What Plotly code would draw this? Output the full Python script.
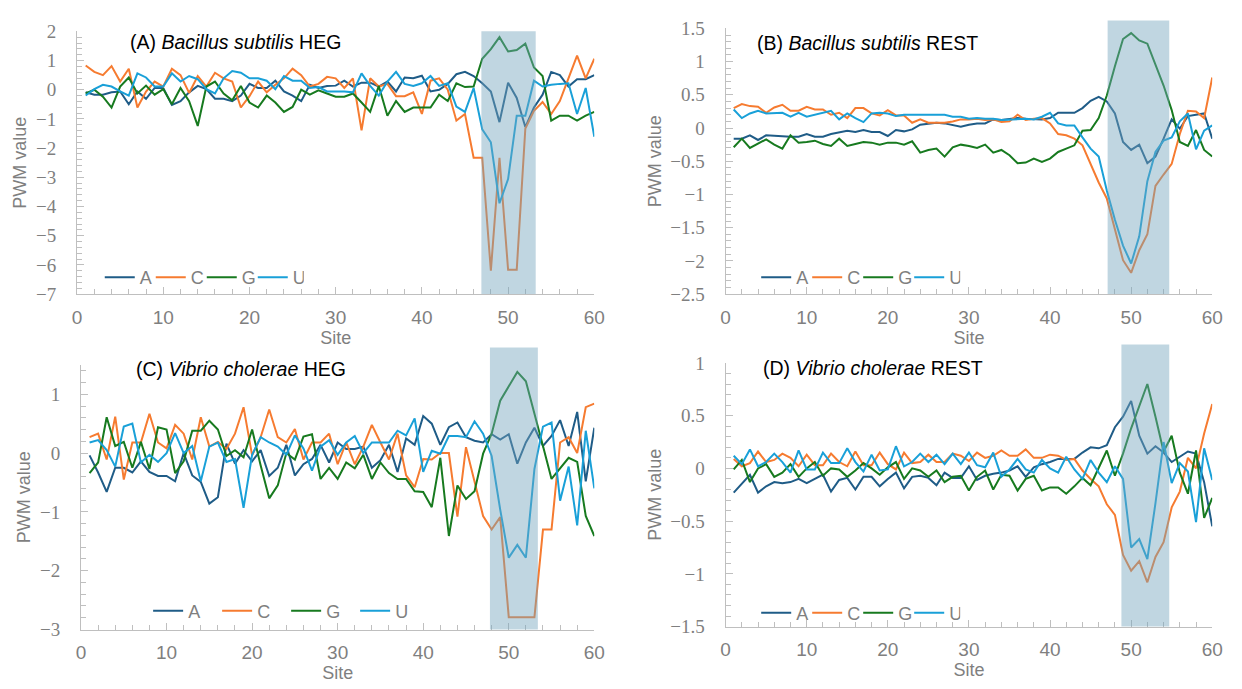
import plotly.graph_objects as go

sites = list(range(1, 61))
bases = ["A", "C", "G", "U"]
colors = {"A": "#1f5c87", "C": "#f67b30", "G": "#177a1f", "U": "#19a0d8"}

# (A) Bacillus subtilis HEG
bs_heg_A = [-0.09,-0.17,-0.17,-0.09,-0.06,-0.5,-0.06,-0.31,0.06,0.06,
            -0.52,-0.39,-0.09,0.13,0.02,-0.31,-0.31,-0.39,-0.2,0.2,
            0.06,0.06,0.31,-0.06,-0.2,-0.39,0.17,0.06,0.13,0.14,
            0.31,0.11,0.24,0.24,0.11,0.28,-0.06,0.42,0.39,0.48,
            -0.06,0,0.2,0.53,0.61,0.47,0.22,-0.06,-1.11,0.24,
            -0.28,-1.28,-0.61,-0.17,0.61,0.5,0.11,0.36,0.36,0.5]
bs_heg_C = [0.83,0.61,0.5,0.81,0.28,0.72,-0.61,-0.06,0.28,0.11,
            0.72,0.5,-0.11,0.47,0.11,0.58,0.39,0.28,-0.61,-0.22,
            0.28,-0.09,0.17,0.39,0.72,0.5,0.11,0.2,0.44,0.39,
            0.06,0.39,-1.39,0.39,0.11,0.2,-0.22,-0.22,-0.09,-0.83,
            0.31,0.39,0,-1.06,-0.83,-2.33,-2.33,-6.2,-2.33,-6.17,
            -6.17,-1.33,-0.72,-0.42,-0.83,-0.39,0.39,1.17,0.39,1.06]
bs_heg_G = [-0.13,0,-0.24,-0.61,0.11,0.42,-0.13,0.14,-0.17,0.02,
            -0.5,0.06,-0.39,-1.24,0.11,0.28,-0.13,-0.36,0.13,-0.44,
            -0.61,-0.2,-0.44,-0.76,-0.59,0,-0.17,-0.02,-0.13,-0.24,
            -0.24,-0.13,-0.44,-0.76,0.13,-0.89,-0.39,-0.76,-0.61,-0.61,
            -0.61,-0.17,-0.39,0.22,0.09,0.11,1.06,1.39,1.8,1.31,
            1.36,1.58,0.76,0.47,-1.06,-0.89,-0.89,-1.06,-0.89,-0.76]
bs_heg_U = [-0.2,0.02,0.17,0.11,-0.06,-0.2,0.56,0.42,0.11,0.11,
            0.56,0.28,0.47,0.36,0.02,-0.13,0.39,0.64,0.58,0.39,
            0.39,0.31,0.02,0.47,0.31,0.31,0.06,0.09,-0.06,-0.06,
            -0.06,-0.09,0.56,0.13,-0.2,0.28,0.61,0.2,0.13,0.22,
            0.47,0.13,0.22,-0.58,-0.76,0.06,-1.36,-1.8,-3.89,-3.06,
            -0.89,-0.89,0.31,0.11,0.17,0.2,0.22,-0.83,0.06,-1.61]

# (B) Bacillus subtilis REST
bs_rest_A = [-0.16,-0.16,-0.11,-0.18,-0.11,-0.12,-0.12,-0.13,-0.13,-0.09,
             -0.13,-0.13,-0.09,-0.07,-0.04,-0.06,-0.03,-0.06,-0.06,-0.12,
             -0.03,-0.05,-0.02,0.05,0.07,0.08,0.07,0.04,0.02,0.05,
             0.07,0.07,0.13,0.12,0.14,0.15,0.14,0.13,0.13,0.15,
             0.23,0.23,0.23,0.30,0.41,0.47,0.40,0.22,-0.21,-0.33,
             -0.25,-0.53,-0.43,-0.16,0.13,-0.01,0.18,0.20,0.22,-0.16]
bs_rest_C = [0.30,0.36,0.33,0.32,0.23,0.31,0.35,0.26,0.26,0.32,
             0.28,0.28,0.20,0.23,0.15,0.30,0.30,0.22,0.19,0.27,
             0.19,0.19,0.08,0.13,0.08,0.08,0.08,0.10,0.13,0.13,
             0.14,0.12,0.13,0.09,0.10,0.20,0.12,0.14,0.15,0.07,
             -0.09,-0.11,-0.16,-0.26,-0.55,-0.82,-1.06,-1.53,-1.99,-2.18,
             -1.84,-1.60,-0.87,-0.70,-0.54,-0.09,0.26,0.25,0.15,0.76]
bs_rest_G = [-0.29,-0.16,-0.30,-0.24,-0.17,-0.25,-0.31,-0.11,-0.22,-0.21,
             -0.19,-0.24,-0.27,-0.16,-0.27,-0.24,-0.21,-0.22,-0.25,-0.22,
             -0.22,-0.25,-0.20,-0.37,-0.33,-0.31,-0.43,-0.29,-0.25,-0.27,
             -0.30,-0.25,-0.37,-0.33,-0.41,-0.53,-0.52,-0.46,-0.51,-0.46,
             -0.36,-0.31,-0.26,-0.04,-0.03,0.15,0.49,0.93,1.34,1.43,
             1.32,1.27,0.96,0.64,0.27,-0.21,-0.27,-0.03,-0.33,-0.43]
bs_rest_U = [0.28,0.15,0.22,0.26,0.22,0.22,0.23,0.17,0.23,0.17,
             0.20,0.22,0.26,0.13,0.22,0.15,0.09,0.22,0.23,0.22,
             0.18,0.20,0.20,0.19,0.19,0.19,0.20,0.17,0.17,0.14,
             0.15,0.14,0.14,0.12,0.13,0.14,0.14,0.13,0.17,0.23,
             0.07,0.04,0.04,-0.14,-0.31,-0.43,-0.94,-1.38,-1.77,-2.04,
             -1.63,-0.80,-0.36,-0.19,-0.14,0.10,0.22,-0.32,-0.04,0.04]

# (C) Vibrio cholerae HEG
vc_heg_A = [-0.04,-0.33,-0.66,-0.25,-0.25,-0.33,-0.14,-0.32,-0.39,-0.39,
            -0.48,0.0,-0.38,-0.49,-0.86,-0.75,0.16,-0.18,0.05,-0.14,
            0.05,-0.39,-0.25,0.14,-0.38,-0.19,-0.10,0.14,-0.16,0.18,
            0.07,0.07,0.11,-0.25,-0.12,0.14,-0.32,0.25,0.14,0.63,
            0.50,0.14,0.44,0.52,0.27,0.21,0.18,0.32,0.23,0.32,
            -0.18,0.18,0.43,0.12,0.29,0.56,0.12,0.70,-0.48,0.43]
vc_heg_C = [0.27,0.33,-0.11,0.62,-0.45,0.18,0.18,0.67,0.18,0.08,
            0.48,0.33,-0.11,0.61,0.11,0.19,0.07,0.33,0.78,-0.04,
            0.27,0.74,0.27,0.18,0.41,-0.11,0.18,0.18,0.33,-0.19,
            0.18,-0.19,0.11,0.48,0.18,-0.11,0.33,-0.38,-0.58,-0.10,
            -0.11,0,0,-1.08,0.10,-0.49,-1.07,-1.30,-1.09,-2.79,
            -2.79,-2.79,-2.79,-1.30,-1.30,0.18,0.27,0,0.78,0.84]
vc_heg_G = [-0.34,-0.16,0.61,0.12,0.19,-0.25,0.19,-0.27,0.44,0.40,
            -0.34,-0.14,0.38,0.38,0.55,0.40,-0.05,0.05,-0.07,0.40,
            -0.21,-0.77,-0.55,0,-0.11,0.28,0.32,-0.44,-0.25,-0.44,
            -0.16,-0.26,-0.03,-0.44,-0.16,-0.34,-0.44,-0.44,-0.65,-0.66,
            -0.92,-0.08,-1.41,-0.55,-0.78,-0.65,-0.01,0.33,0.89,1.13,
            1.38,1.22,0.69,0.12,-0.44,-0.26,-0.08,-0.15,-1.07,-1.41]
vc_heg_U = [0.18,0.22,0.05,-0.23,0.45,0.50,-0.16,-0.03,-0.15,0,
            0.34,0,0.12,-0.48,0.11,0.18,-0.15,-0.10,-0.93,-0.03,
            0.27,0.18,0.11,-0.03,0.30,0.08,-0.30,0.11,0.22,-0.03,
            0.18,0.29,0,0.18,0.18,0.18,0.38,0.30,0.59,-0.32,
            0.04,-0.01,0.29,0.29,0.27,0.54,0.33,-0.05,-0.96,-1.78,
            -1.56,-1.78,-0.27,0.45,0.52,-0.81,-0.23,-1.23,0.38,-0.60]

# (D) Vibrio cholerae REST
vc_rest_A = [-0.23,-0.14,-0.06,-0.23,-0.17,-0.13,-0.14,-0.13,-0.10,-0.14,
             -0.10,-0.06,-0.22,-0.11,-0.09,-0.20,-0.08,-0.08,-0.17,-0.10,
             -0.04,-0.19,-0.08,-0.07,-0.09,-0.16,-0.04,-0.09,-0.09,0.02,
             -0.11,-0.07,-0.05,-0.04,-0.02,0.02,-0.08,0.01,0.04,0.06,
             0.09,0.09,0.09,0.15,0.20,0.19,0.22,0.39,0.49,0.64,
             0.31,0.14,0.21,0.15,0.06,0.11,0.16,0.14,-0.13,-0.55]
vc_rest_C = [0.09,0.02,0.05,0.16,0.06,0.08,0.14,0.10,0.02,0.13,
             0.03,0.03,0.14,0.06,0.02,0.16,0.03,0.03,0.15,0.04,
             -0.01,0.15,0.05,0.06,0.13,0.06,0.06,0.14,0.12,0.07,
             0.15,0.10,0.12,0.17,0.12,0.12,0.18,0.10,0.10,0.13,
             0.12,0.08,0.09,-0.02,-0.10,-0.17,-0.34,-0.44,-0.82,-0.97,
             -0.88,-1.08,-0.84,-0.70,-0.37,-0.22,0.10,0,0.33,0.61]
vc_rest_G = [-0.01,0.08,-0.13,0,0.04,-0.08,-0.04,0.04,-0.08,0,
             0.06,-0.07,0,-0.01,-0.08,-0.02,0.05,0,-0.06,0.01,
             0.06,-0.10,0,-0.02,-0.08,-0.02,-0.13,-0.08,-0.07,-0.21,
             -0.08,-0.02,-0.20,-0.06,-0.07,-0.21,-0.10,-0.07,-0.21,-0.18,
             -0.18,-0.24,-0.17,-0.09,-0.16,0.01,0.17,-0.07,0.14,0.38,
             0.59,0.80,0.49,0.16,0.31,-0.04,-0.24,0.17,-0.47,-0.28]
vc_rest_U = [0.12,0.04,0.18,0.02,0.06,0.14,0.06,-0.04,0.17,-0.01,
             -0.01,0.15,0.05,0.05,0.19,0.06,-0.03,0.13,-0.02,-0.01,
             0.21,0.02,0.06,0.14,0.06,0.13,0.04,0.14,0.04,0.15,
             0.03,0.01,0.15,-0.08,-0.01,0.09,-0.01,-0.04,0.08,0,
             -0.04,0.11,-0.01,-0.10,0.08,-0.04,-0.13,0.02,-0.10,-0.75,
             -0.67,-0.86,-0.33,0.25,-0.14,0.05,-0.03,-0.51,0.19,-0.11]

panel_titles = ["(A) <i>Bacillus subtilis</i> HEG", "(B) <i>Bacillus subtilis</i> REST",
                "(C) <i>Vibrio cholerae</i> HEG", "(D) <i>Vibrio cholerae</i> REST"]
panel_data = [
    [bs_heg_A, bs_heg_C, bs_heg_G, bs_heg_U],
    [bs_rest_A, bs_rest_C, bs_rest_G, bs_rest_U],
    [vc_heg_A, vc_heg_C, vc_heg_G, vc_heg_U],
    [vc_rest_A, vc_rest_C, vc_rest_G, vc_rest_U],
]
y_ranges = [[-7, 2], [-2.5, 1.5], [-3, 1.5], [-1.5, 1]]
y_dticks = [1, 0.5, 1, 0.5]
y_minor = [0.2, 0.1, 0.2, 0.1]
shade_x = [[46.9, 53.2], [47.1, 54.7], [47.8, 53.4], [48.8, 54.7]]
shade_top = [1.0, 1.03, 1.066, 1.07]

W, H = 1242, 689
# pixel boxes of plot areas (left, right, top, bottom)
boxes = [(73, 597, 22, 293), (730, 1223, 19, 293), (77, 597, 366, 639), (730, 1223, 364, 636)]
title_pos = [(125, 33), (760, 34), (131, 370), (766, 369)]
legend_pos = [(96, 276), (761, 276), (145, 620), (761, 622)]
legend_entry = [6, 6, 24, 6]

GRAY = "#bfbfbf"
LBL = "#7f7f7f"

fig = go.Figure()
for p in range(4):
    ax = "" if p == 0 else str(p + 1)
    leg = "legend" if p == 0 else "legend" + str(p + 1)
    for b, vals in zip(bases, panel_data[p]):
        fig.add_trace(go.Scatter(
            x=sites, y=vals, mode="lines", name=b,
            line=dict(color=colors[b], width=2),
            xaxis="x" + ax, yaxis="y" + ax, legend=leg))

layout = dict(width=W, height=H, margin=dict(l=0, r=0, t=0, b=0), autosize=False,
              plot_bgcolor="white", paper_bgcolor="white", showlegend=True,
              font=dict(family="Liberation Sans, Arial, sans-serif", color=LBL))
annotations = []
shapes = []
for p in range(4):
    ax = "" if p == 0 else str(p + 1)
    l, r, t, bt = boxes[p]
    layout["xaxis" + ax] = dict(
        domain=[l / W, r / W], anchor="y" + ax, range=[0, 60],
        tick0=0, dtick=10, ticks="inside", ticklen=7, tickcolor=GRAY,
        showline=True, linecolor=GRAY, linewidth=1, showgrid=False, zeroline=False,
        tickfont=dict(family="Liberation Sans, Arial", size=19, color=LBL),
        ticklabelstandoff=6,
        minor=dict(dtick=2, ticks="inside", ticklen=5, tickcolor=GRAY, showgrid=False),
        title=dict(text="Site", font=dict(family="Liberation Sans, Arial", size=18, color=LBL), standoff=0))
    layout["yaxis" + ax] = dict(
        domain=[1 - bt / H, 1 - t / H], anchor="x" + ax, range=y_ranges[p],
        tick0=0, dtick=y_dticks[p], ticks="inside", ticklen=7, tickcolor=GRAY,
        showline=True, linecolor=GRAY, linewidth=1, showgrid=False, zeroline=False,
        tickfont=dict(family="Liberation Serif, Times New Roman, serif", size=19, color=LBL),
        ticklabelstandoff=16,
        minor=dict(dtick=y_minor[p], ticks="inside", ticklen=5, tickcolor=GRAY, showgrid=False),
        title=dict(text="PWM value", font=dict(family="Liberation Sans, Arial", size=18, color=LBL), standoff=4))
    leg = "legend" if p == 0 else "legend" + str(p + 1)
    lx, ly = legend_pos[p]
    layout[leg] = dict(x=lx / W, y=1 - ly / H, xanchor="left", yanchor="middle", orientation="h",
                       bgcolor="rgba(0,0,0,0)", itemwidth=30,
                       entrywidth=legend_entry[p], entrywidthmode="pixels",
                       font=dict(family="Liberation Sans, Arial", size=18, color=LBL))
    tx, ty = title_pos[p]
    annotations.append(dict(text=panel_titles[p], xref="paper", yref="paper",
                            x=tx / W, y=1 - ty / H, xanchor="left", yanchor="middle",
                            showarrow=False,
                            font=dict(family="Liberation Sans, Arial", size=19.5, color="black")))
    shapes.append(dict(type="rect", xref="x" + ax, yref="y" + ax + " domain",
                       x0=shade_x[p][0], x1=shade_x[p][1], y0=0, y1=shade_top[p],
                       fillcolor="rgba(115,165,188,0.45)", line=dict(width=0), layer="above"))
layout["annotations"] = annotations
layout["shapes"] = shapes
fig.update_layout(**layout)
fig.write_html("out.html")
